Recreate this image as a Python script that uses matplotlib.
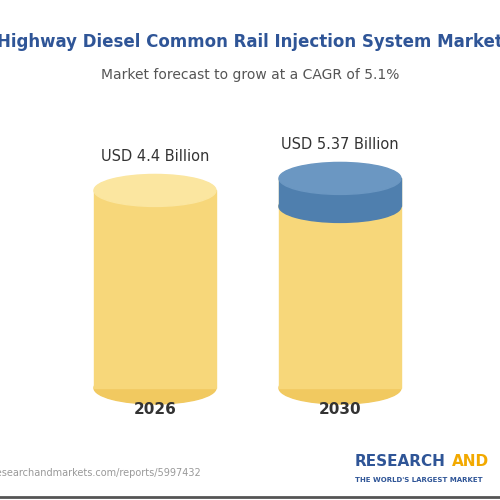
import matplotlib.pyplot as plt
from matplotlib.patches import Ellipse, Rectangle

years = ["2026", "2030"]
values = [4.4, 5.37]
value_labels = ["USD 4.4 Billion", "USD 5.37 Billion"]
title = "Highway Diesel Common Rail Injection System Market"
subtitle = "Market forecast to grow at a CAGR of 5.1%"

fig = plt.figure(figsize=(5, 5), dpi=100)
ax = fig.add_axes([0, 0, 1, 1])
ax.set_xlim(0, 500)
ax.set_ylim(500, 0)
ax.axis("off")
fig.patch.set_facecolor("white")

base = 388
px_per_b = 12.4
offset = 143
growth_px = 28
centers = [155, 340]
half_w = 61
ry = 16
gold = "#f7d77a"
gold_top = "#fbe6a0"
blue = "#4f7fae"
blue_top = "#6b97c2"

for i, (yr, v, lab) in enumerate(zip(years, values, value_labels)):
    cx = centers[i]
    top = base - (offset + px_per_b * v)
    ax.add_patch(Ellipse((cx, base), 2 * half_w, 2 * ry, color="#f1c960", zorder=1))
    ax.add_patch(Rectangle((cx - half_w, top), 2 * half_w, base - top, color=gold, zorder=2))
    if i == 0:
        ax.add_patch(Ellipse((cx, top), 2 * half_w, 2 * ry, color=gold_top, zorder=3))
    else:
        band = top + growth_px
        ax.add_patch(Ellipse((cx, band), 2 * half_w, 2 * ry, color=gold, zorder=2.5))
        ax.add_patch(Rectangle((cx - half_w, top), 2 * half_w, growth_px, color=blue, zorder=2.6))
        ax.add_patch(Ellipse((cx, band), 2 * half_w, 2 * ry, color=blue, zorder=2.55))
        ax.add_patch(Ellipse((cx, top), 2 * half_w, 2 * ry, color=blue_top, zorder=3))
    ax.text(cx, top - ry - 18, lab, ha="center", va="center", fontsize=10.5, color="#333333")
    ax.text(cx, 410, yr, ha="center", va="center", fontsize=11, fontweight="bold", color="#333333")

ax.text(250, 42, title, ha="center", va="center", fontsize=12, fontweight="bold", color="#2f5597")
ax.text(250, 75, subtitle, ha="center", va="center", fontsize=10, color="#555555")
ax.text(-8, 473, "researchandmarkets.com/reports/5997432", ha="left", va="center", fontsize=7, color="#999999")
ax.text(355, 462, "RESEARCH", ha="left", va="center", fontsize=11, fontweight="bold", color="#2f5597")
ax.text(452, 462, "AND", ha="left", va="center", fontsize=11, fontweight="bold", color="#f2a900")
ax.text(355, 480, "THE WORLD'S LARGEST MARKET", ha="left", va="center", fontsize=5, fontweight="bold", color="#2f5597")
ax.plot([0, 500], [497, 497], color="#555555", lw=2)

fig.savefig("out.png", dpi=100)
